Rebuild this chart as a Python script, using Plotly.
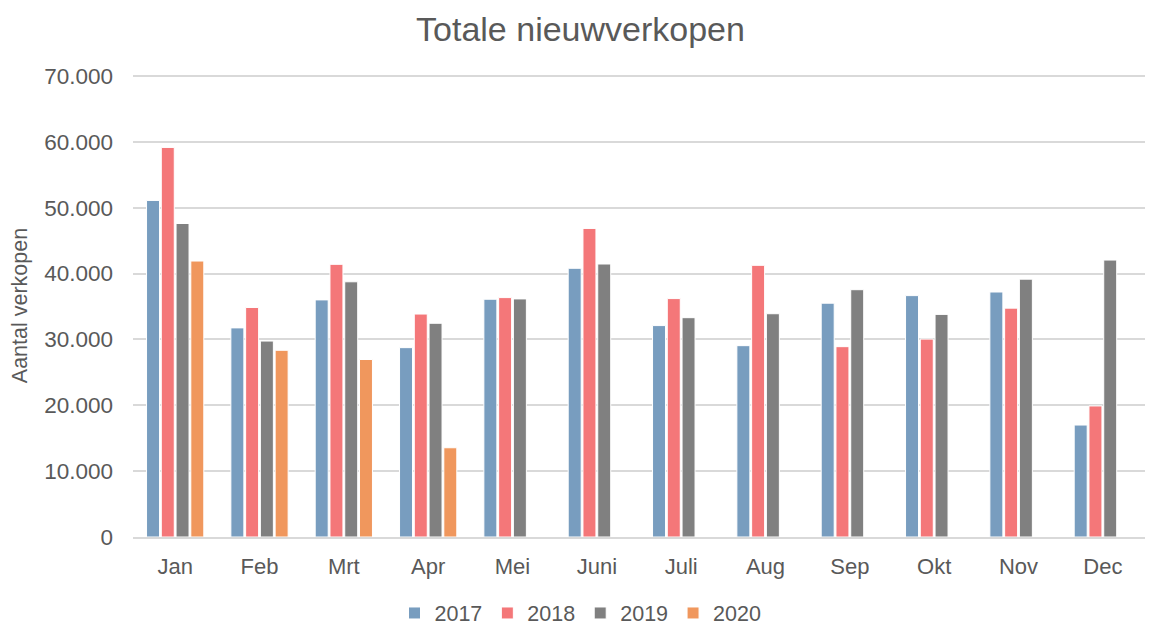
import plotly.graph_objects as go

months = ["Jan", "Feb", "Mrt", "Apr", "Mei", "Juni", "Juli", "Aug", "Sep", "Okt", "Nov", "Dec"]
v2017 = [51100, 31750, 36000, 28750, 36100, 40800, 32100, 29050, 35500, 36650, 37200, 17000]
v2018 = [59150, 34850, 41400, 33850, 36350, 46850, 36200, 41250, 28900, 30050, 34750, 19900]
v2019 = [47600, 29750, 38750, 32450, 36150, 41450, 33300, 33900, 37550, 33800, 39150, 42050]
v2020 = [41900, 28350, 26950, 13550, None, None, None, None, None, None, None, None]

series = [("2017", v2017, "#789DBF"), ("2018", v2018, "#F47779"),
          ("2019", v2019, "#808080"), ("2020", v2020, "#F0975D")]

fig = go.Figure()
for name, vals, col in series:
    fig.add_trace(go.Bar(x=months, y=vals, name=name, marker_color=col,
                         marker_line_color="white", marker_line_width=1))

font_color = "#595959"
# page body has an 8px default margin, so the figure is sized to fit the 1153x628 window
fig.update_layout(
    width=1145, height=620,
    barmode="group", bargap=0.3, bargroupgap=0.12,
    separators=",.",
    paper_bgcolor="white", plot_bgcolor="white",
    font=dict(family="Liberation Sans, Arial, sans-serif", color=font_color, size=22),
    title=dict(text="Totale nieuwverkopen", x=0.5, xanchor="center", yref="container",
               y=1 - 21 / 620, yanchor="middle",
               font=dict(size=34, color=font_color)),
    margin=dict(l=125, r=8, t=66, b=91, autoexpand=False),
    legend=dict(orientation="h", xref="container", x=0.5, xanchor="center", yref="container",
                y=1 - 605 / 620, yanchor="middle",
                font=dict(size=21.5, color=font_color), itemwidth=30, traceorder="normal"),
    xaxis=dict(showgrid=False, ticks="", tickfont=dict(size=22, color=font_color),
               showline=True, linecolor="#D9D9D9", linewidth=1.5, ticklabelstandoff=9),
    yaxis=dict(range=[0, 70300], dtick=10000, tickformat=",d", showgrid=True,
               gridcolor="#D9D9D9", gridwidth=1.5, zeroline=False,
               tickfont=dict(size=22.5, color=font_color), ticklen=0, ticks="",
               ticklabelstandoff=19,
               title=dict(text="Aantal verkopen", font=dict(size=21.5, color=font_color), standoff=20)),
)
fig.write_html("out.html")
